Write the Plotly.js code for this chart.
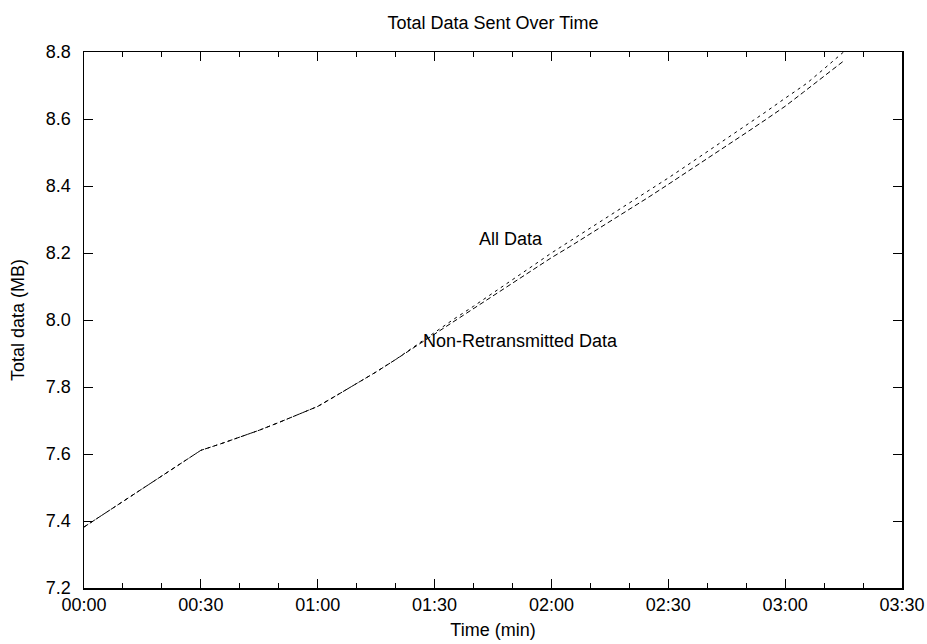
<!DOCTYPE html>
<html>
<head>
<meta charset="utf-8">
<script src="https://cdn.plot.ly/plotly-3.0.1.min.js"></script>
<style>html,body{margin:0;padding:0;background:#fff;}#chart{width:927px;height:644px;}</style>
</head>
<body>
<div id="chart"></div>
<script>
// Time in seconds since start
const timeAll = [0,5,10,15,20,25,30,35,40,45,50,55,60,65,70,75,80,85,90,95,100,105,110,115,120,125,130,135,140,145,150,155,160,165,170,175,180,185.5,190,195];
const allData = [7.382,7.420,7.459,7.497,7.535,7.573,7.611,7.630,7.650,7.671,7.694,7.717,7.742,7.776,7.810,7.845,7.882,7.922,7.964,8.003,8.041,8.080,8.120,8.160,8.200,8.237,8.274,8.311,8.348,8.386,8.424,8.463,8.502,8.541,8.581,8.621,8.662,8.706,8.750,8.800];

const timeNonRetx = [0,5,10,15,20,25,30,35,40,45,50,55,60,65,70,75,80,85,90,95,100,105,110,115,120,125,130,135,140,145,150,155,160,165,170,175,180,184.7,190,195];
const nonRetxData = [7.382,7.420,7.459,7.497,7.535,7.573,7.611,7.630,7.650,7.671,7.694,7.717,7.742,7.776,7.810,7.845,7.882,7.920,7.960,7.998,8.035,8.072,8.110,8.148,8.186,8.221,8.257,8.293,8.329,8.367,8.405,8.443,8.481,8.520,8.559,8.598,8.638,8.680,8.728,8.773];

const xTickVals = [0,30,60,90,120,150,180,210];
const xTickText = ["00:00","00:30","01:00","01:30","02:00","02:30","03:00","03:30"];
const yTickVals = [7.2,7.4,7.6,7.8,8.0,8.2,8.4,8.6,8.8];
const yTickText = ["7.2","7.4","7.6","7.8","8.0","8.2","8.4","8.6","8.8"];

const seriesNames = ["All Data","Non-Retransmitted Data"];

const font = {family: "Liberation Sans, Arial, sans-serif", size: 18, color: "#000"};

const traces = [
  {x: timeAll, y: allData, mode: "lines", name: seriesNames[0],
   line: {color: "#000", width: 1, dash: "3px,4px"}},
  {x: timeNonRetx, y: nonRetxData, mode: "lines", name: seriesNames[1],
   line: {color: "#000", width: 1, dash: "5px,3px"}}
];

const layout = {
  width: 927, height: 644,
  margin: {l: 84, r: 25, t: 52, b: 56},
  paper_bgcolor: "#fff", plot_bgcolor: "#fff",
  showlegend: false,
  font: font,
  title: {text: "Total Data Sent Over Time", font: font, x: 0.5, xref: "paper", y: 1 - 23/644, yref: "container", yanchor: "middle"},
  xaxis: {
    range: [0, 210], tickmode: "array", tickvals: xTickVals, ticktext: xTickText,
    ticks: "inside", ticklen: 9, tickwidth: 1, tickcolor: "#000",
    showline: true, linecolor: "#000", linewidth: 1.5, mirror: "ticks",
    showgrid: false, zeroline: false,
    minor: {tick0: 0, dtick: 10, ticks: "inside", ticklen: 5, tickwidth: 1, tickcolor: "#000", showgrid: false},
    title: {text: "Time (min)", font: font, standoff: 9},
    tickfont: font
  },
  yaxis: {
    range: [7.2, 8.8], tickmode: "array", tickvals: yTickVals, ticktext: yTickText,
    ticks: "inside", ticklen: 9, tickwidth: 1, tickcolor: "#000",
    showline: true, linecolor: "#000", linewidth: 1.5, mirror: "ticks",
    showgrid: false, zeroline: false, ticklabelstandoff: 8,
    title: {text: "Total data (MB)", font: font, standoff: 16},
    tickfont: font
  },
  annotations: [
    {x: 100.8, y: 8.241, xref: "x", yref: "y", text: seriesNames[0], showarrow: false, xanchor: "left", yanchor: "middle", font: font},
    {x: 86.6, y: 7.937, xref: "x", yref: "y", text: seriesNames[1], showarrow: false, xanchor: "left", yanchor: "middle", font: font}
  ]
};

Plotly.newPlot("chart", traces, layout, {displayModeBar: false, staticPlot: true});
</script>
</body>
</html>
